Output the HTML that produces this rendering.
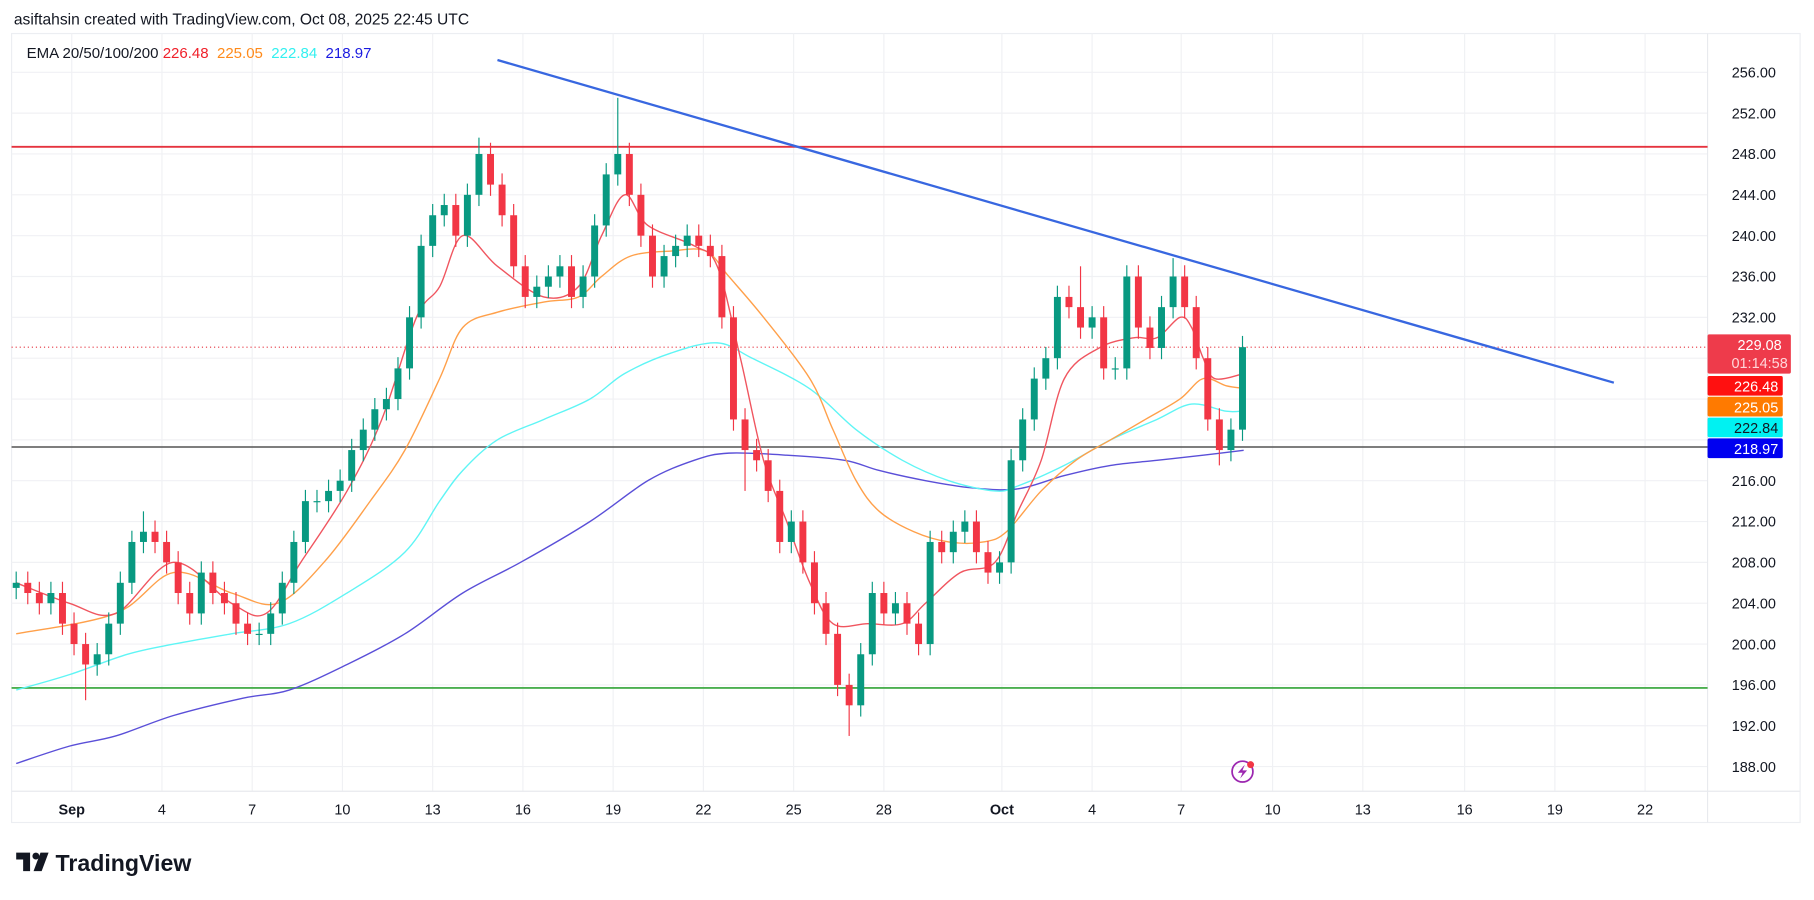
<!DOCTYPE html>
<html><head><meta charset="utf-8"><style>
html,body{margin:0;padding:0;background:#fff;overflow:hidden}
#wrap{width:1568px;height:778px;transform:scale(1.15689,1.15681);transform-origin:0 0;position:relative;font-family:"Liberation Sans",sans-serif}
svg text{font-family:"Liberation Sans",sans-serif}
</style></head><body>
<div id="wrap">
<svg id="chart" width="1568" height="778">
</svg>
</div>
<script>
const closes=[206,205,204,205,202,200,198,199,202,206,210,211,210,208,205,203,207,205,204,202,201,201,203,206,210,214,214,215,216,219,221,223,224,227,232,239,242,243,240,244,248,245,242,237,234,235,236,237,234,236,241,246,248,244,240,236,238,239,240,239,238,232,222,219,218,215,210,212,208,204,201,196,194,199,205,203,204,202,200,210,209,211,212,209,207,208,218,222,226,228,234,233,231,232,227,227,236,231,229,233,236,233,228,222,219,221,229.08];
const firstOpen=205.5;
const spikeIdx=[40,52,63,72,92,100,104,11,6];
const spikeVal=[249.6,253.5,215,191,237,237.8,217.5,213,194.5];
const ema20X=[14,60,100,150,200,230,260,300,330,360,380,400,430,470,500,520,540,560,600,620,640,660,680,700,720,750,780,800,830,860,880,900,920,950,980,1000,1020,1030,1040,1050,1075];
const ema20=[206,204,203,208,204,203,208,215,222,232,235,240,237,234,235,240,244,241,239,237,228,218,212,206,202,202,202,204,207,208,213,218,226,229,230,230,232,231,228,226,226.48];
const ema50X=[14,100,150,200,240,280,320,350,380,400,430,470,500,520,545,580,610,630,660,700,720,740,760,790,820,850,870,900,930,960,990,1020,1040,1060,1075];
const ema50=[201,203,207,205,204,208,214,219,226,231,232.5,233.5,234,236,238,238.5,238.5,236,232,226,221,216,213,211,210,210,211,215,218,220,222,224,226,225.3,225.05];
const ema100X=[14,60,110,150,200,250,300,350,380,400,430,470,510,540,580,620,650,700,740,780,820,860,880,920,960,1000,1030,1060,1075];
const ema100=[195.5,197,199,200,201,202,205,209,214,217,220,222,224,226.5,228.5,229.5,228,225,221,218,216,215,215.5,217.5,220,222,223.5,222.8,222.84];
const ema200X=[14,60,100,150,210,250,300,350,400,450,510,560,600,630,680,730,760,800,840,880,920,960,1000,1040,1075];
const ema200=[188.3,190,191,193,194.7,195.5,198,201,205,208,212,216,218,218.7,218.5,218,217,216,215.3,215.2,216.5,217.5,218,218.5,218.97];
const priceTicks=[256,252,248,244,240,236,232,216,212,208,204,200,196,192,188];
const gridPrices=[256,252,248,244,240,236,232,228,224,220,216,212,208,204,200,196,192,188];
const dateLabels=["Sep","4","7","10","13","16","19","22","25","28","Oct","4","7","10","13","16","19","22"];
const datePos=[62,140,218,296,374,452,530,608,686,764,866,944,1021,1100,1178,1266,1344,1422];
const resistance=248.7, support=219.3, lowSupport=195.7, lastPrice=229.08;
const trendStart=[430,257.2], trendEnd=[1395,225.6];

const NS='http://www.w3.org/2000/svg';
const svg=document.getElementById('chart');
const Y=v=>62.5+(256-v)*8.826;
const X=i=>14+i*10;
function mk(tag,attrs,parent){const e=document.createElementNS(NS,tag);for(const k in attrs)e.setAttribute(k,attrs[k]);(parent||svg).appendChild(e);return e;}
let e;
e=mk('rect',{x:10,y:29,width:1546,height:682,fill:'none',stroke:'#eceef2'});


const grid=mk('g',{stroke:'#f0f1f4','stroke-width':1});


gridPrices.forEach(p=>{mk('line',{x1:10,x2:1476,y1:Y(p),y2:Y(p)},grid);});
datePos.forEach(x=>{mk('line',{x1:x,x2:x,y1:29,y2:684},grid);});
e=mk('line',{x1:1476,x2:1476,y1:29,y2:711,stroke:'#e8eaee'});


e=mk('line',{x1:10,x2:1556,y1:684,y2:684,stroke:'#e8eaee'});


function hline(v,color,w,name,dash){const l=mk('line',{x1:10,x2:1476,y1:Y(v),y2:Y(v),stroke:color,'stroke-width':w});if(dash)l.setAttribute('stroke-dasharray',dash);}
hline(resistance,'#e5333f',1.6,'resistance-line');
hline(support,'#6b6b6b',1.6,'support-line');
hline(lowSupport,'#4caf50',1.6,'low-support-line');
hline(lastPrice,'#e5333f',1,'last-price-line','1 2.5');
function smoothPath(pts){let d='M'+pts[0][0]+' '+pts[0][1];for(let i=0;i<pts.length-1;i++){const p0=pts[i-1]||pts[i],p1=pts[i],p2=pts[i+1],p3=pts[i+2]||p2;const c1x=p1[0]+(p2[0]-p0[0])/6,c1y=p1[1]+(p2[1]-p0[1])/6,c2x=p2[0]-(p3[0]-p1[0])/6,c2y=p2[1]-(p3[1]-p1[1])/6;d+=' C'+c1x.toFixed(1)+' '+c1y.toFixed(1)+' '+c2x.toFixed(1)+' '+c2y.toFixed(1)+' '+p2[0]+' '+p2[1].toFixed(1);}return d;}
function emaLine(xs,vs,color,name){const pts=xs.map((x,i)=>[x,Y(vs[i])]);const p=mk('path',{d:smoothPath(pts),fill:'none',stroke:color,'stroke-width':1.2});}
emaLine(ema200X,ema200,'#5a4fd8','ema-200-line');
emaLine(ema100X,ema100,'#5ff5f5','ema-100-line');
emaLine(ema50X,ema50,'#ffa04a','ema-50-line');
emaLine(ema20X,ema20,'#f0555f','ema-20-line');
const cg=mk('g',{});


closes.forEach((c,i)=>{
  const o=i===0?firstOpen:closes[i-1];
  let hi=Math.max(o,c)+1.1, lo=Math.min(o,c)-1.1;
  const k=spikeIdx.indexOf(i);
  if(k>=0){if(spikeVal[k]>Math.max(o,c))hi=spikeVal[k];else lo=spikeVal[k];}
  const col=c>=o?'#089981':'#f23645';
  const x=X(i);
  const w=mk('line',{x1:x,x2:x,y1:Y(hi),y2:Y(lo),stroke:col,'stroke-width':1},cg);
  
  
  const top=Y(Math.max(o,c)),bot=Y(Math.min(o,c));
  const b=mk('rect',{x:x-3,y:top,width:6,height:Math.max(1,bot-top),fill:col},cg);
  
  
});
e=mk('line',{x1:trendStart[0],y1:Y(trendStart[1]),x2:trendEnd[0],y2:Y(trendEnd[1]),stroke:'#3867e0','stroke-width':2});


priceTicks.forEach(p=>{const t=mk('text',{x:1516,y:Y(p)+4.5,'font-size':12.5,'text-anchor':'middle',fill:'#131722'});t.textContent=p.toFixed(2);});
dateLabels.forEach((d,i)=>{const t=mk('text',{x:datePos[i],y:704,'font-size':12.5,'text-anchor':'middle',fill:'#131722','font-weight':(d==='Sep'||d==='Oct')?'bold':'normal'});t.textContent=d;});
function badge(y1,y2,color,txt,tcol,name,w){const g=mk('g',{});mk('rect',{x:1476,y:y1,width:w||65,height:y2-y1,fill:color,rx:1.5},g);const t=mk('text',{x:1518,y:y1+13.5,'font-size':12.5,'text-anchor':'middle',fill:tcol},g);t.textContent=txt;return g;}
const g1=badge(289,323,'#ee3b4b','229.08','#fff','last-price-badge',72);
const t2=mk('text',{x:1521,y:318,'font-size':12.5,'text-anchor':'middle',fill:'#ffd6da'},g1);t2.textContent='01:14:58';
g1.querySelector('text').setAttribute('x',1521);
badge(325,342,'#ff1010','226.48','#fff','ema20-badge');
badge(343,360,'#ff7a00','225.05','#fff','ema50-badge');
badge(361,378,'#00f2f2','222.84','#131722','ema100-badge');
badge(379,396,'#0000f0','218.97','#fff','ema200-badge');
e=mk('text',{x:12,y:21,'font-size':13.5,fill:'#131722'});e.textContent='asiftahsin created with TradingView.com, Oct 08, 2025 22:45 UTC';

const lg=mk('text',{x:23,y:50,'font-size':13,fill:'#131722'});

[['EMA 20/50/100/200 ','#131722'],['226.48  ','#f0202a'],['225.05  ','#ff8a1a'],['222.84  ','#33f0f0'],['218.97','#1a1ae0']].forEach(([s,c])=>{const sp=mk('tspan',{fill:c},lg);sp.textContent=s;});
lg.setAttribute('style','white-space:pre');
const ic=mk('g',{});
mk('circle',{cx:1074,cy:667,r:9,fill:'none',stroke:'#9c27b0','stroke-width':1.5},ic);
mk('path',{d:'M1076 661 L1070 668 L1074 668 L1072 673 L1078 666 L1074 666 Z',fill:'#9c27b0'},ic);
mk('circle',{cx:1081,cy:661,r:3,fill:'#f23645'},ic);
const lgo=mk('g',{});
mk('path',{d:'M14 737 H26 V753 H20 V743 H14 Z',fill:'#131722'},lgo);
mk('circle',{cx:31,cy:740,r:3,fill:'#131722'},lgo);
mk('path',{d:'M35 737 H42 L36 753 H29 Z',fill:'#131722'},lgo);
const lt=mk('text',{x:48,y:753,'font-size':20,'font-weight':'bold',fill:'#131722'},lgo);lt.textContent='TradingView';
</script>
</body></html>
